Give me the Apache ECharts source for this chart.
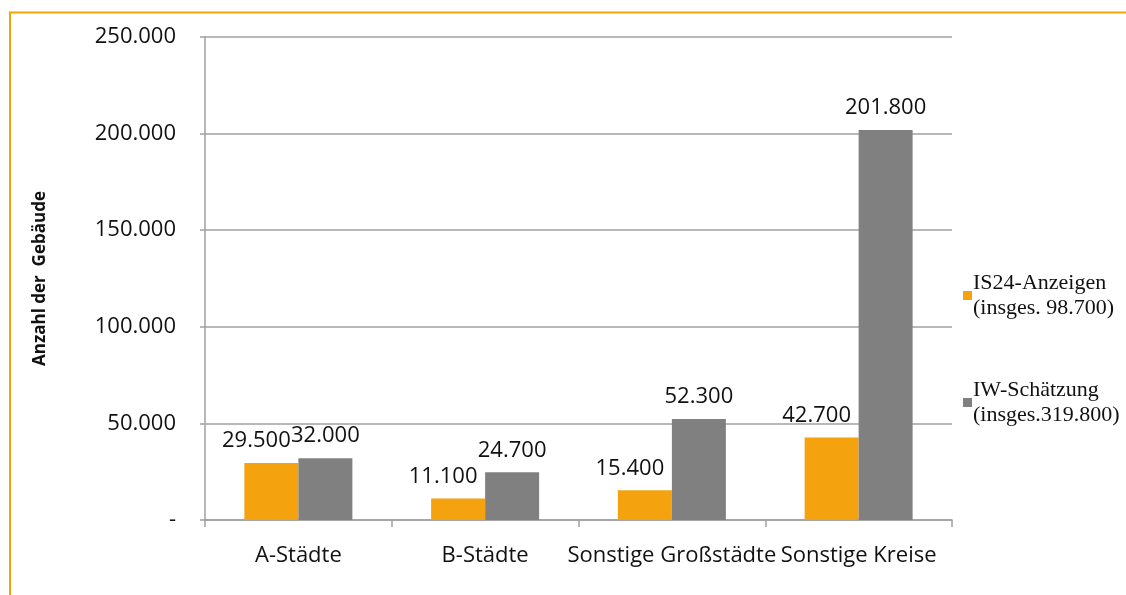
<!DOCTYPE html>
<html>
<head>
<meta charset="utf-8">
<script src="https://cdn.jsdelivr.net/npm/echarts@6/dist/echarts.min.js"></script>
<style>
  html, body { margin: 0; padding: 0; background: #fff; }
  #chart { width: 1126px; height: 595px; }
</style>
</head>
<body>
<div id="chart"></div>
<script>
// Kategorien und Werte
var categories = ['A-Städte', 'B-Städte', 'Sonstige Großstädte', 'Sonstige Kreise'];
var is24Values = [29500, 11100, 15400, 42700];
var iwValues = [32000, 24700, 52300, 201800];
var seriesNames = ['IS24-Anzeigen\n(insges. 98.700)', 'IW-Schätzung\n(insges.319.800)'];
var yTicks = [0, 50000, 100000, 150000, 200000, 250000];

// Tausenderpunkt wie im Original
function fmt(v) {
    if (v === 0) return '-';
    return String(v).replace(/\B(?=(\d{3})+(?!\d))/g, '.');
}

var chart = echarts.init(document.getElementById('chart'));

var labelFont = { fontFamily: 'Open Sans', fontSize: 22, color: '#111' };

chart.setOption({
    animation: false,
    backgroundColor: '#fff',
    graphic: [{
        type: 'polyline',
        shape: { points: [[10, 595], [10, 12.5], [1126, 12.5]] },
        style: { stroke: '#F5A30A', lineWidth: 2, fill: null }
    }],
    legend: {
        orient: 'vertical',
        left: 958,
        top: 253,
        itemWidth: 9,
        itemHeight: 9,
        itemGap: 32,
        icon: 'rect',
        textStyle: {
            fontFamily: 'Liberation Serif',
            fontSize: 22,
            color: '#111',
            lineHeight: 25,
            padding: [25, 0, 0, -4]
        },
        data: seriesNames
    },
    grid: { left: 205, right: 174, top: 37, bottom: 75 },
    xAxis: {
        type: 'category',
        data: categories,
        axisLine: { lineStyle: { color: '#A0A0A0', width: 1.5 } },
        axisTick: { show: true, length: 7, lineStyle: { color: '#A0A0A0', width: 1.5 } },
        axisLabel: Object.assign({ margin: 25, interval: 0 }, labelFont)
    },
    yAxis: {
        type: 'value',
        min: yTicks[0],
        max: yTicks[yTicks.length - 1],
        interval: 50000,
        name: 'Anzahl der  Gebäude',
        nameLocation: 'middle',
        nameGap: 156,
        nameTextStyle: { fontFamily: 'Open Sans', fontWeight: 'bold', fontSize: 17, color: '#111' },
        axisLine: { show: true, lineStyle: { color: '#A0A0A0', width: 1.5 } },
        axisTick: { show: true, length: 5, lineStyle: { color: '#A0A0A0', width: 1.5 } },
        splitLine: { lineStyle: { color: '#A0A0A0', width: 1.5 } },
        axisLabel: Object.assign({ margin: 29, formatter: fmt }, labelFont)
    },
    series: [{
        name: seriesNames[0],
        type: 'bar',
        data: is24Values,
        barWidth: 54,
        barGap: '0%',
        itemStyle: { color: '#F5A20F' },
        label: Object.assign({
            show: true,
            position: 'top',
            distance: 11,
            offset: [-15, 0],
            formatter: function (p) { return fmt(p.value); }
        }, labelFont)
    }, {
        name: seriesNames[1],
        type: 'bar',
        data: iwValues,
        barWidth: 54,
        barGap: '0%',
        itemStyle: { color: '#808080' },
        label: Object.assign({
            show: true,
            position: 'top',
            distance: 11,
            formatter: function (p) { return fmt(p.value); }
        }, labelFont)
    }]
});
</script>
</body>
</html>
